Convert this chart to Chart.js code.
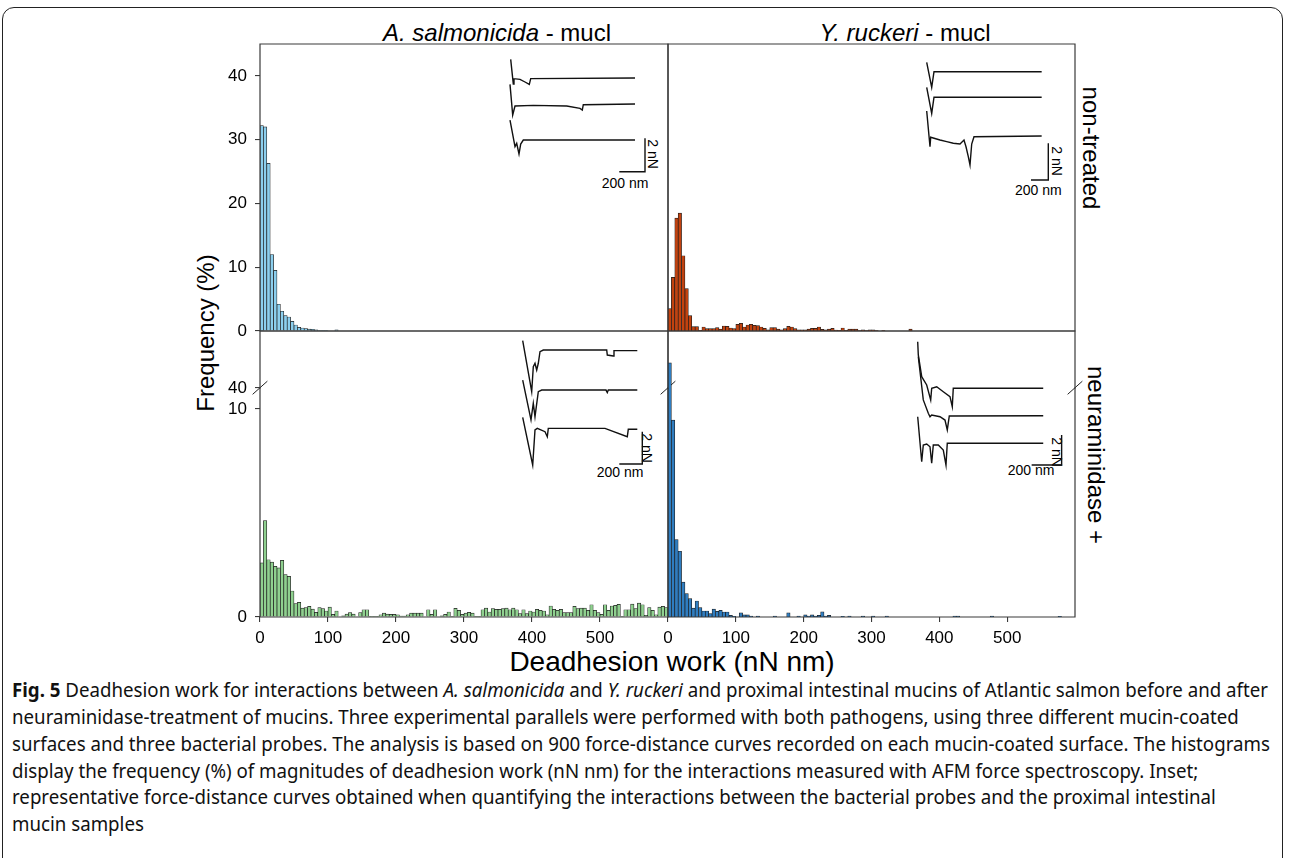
<!DOCTYPE html>
<html><head><meta charset="utf-8">
<script src="https://cdn.jsdelivr.net/npm/chart.js@4.4.1/dist/chart.umd.min.js"></script>
<style>
html,body{margin:0;padding:0;background:#fff;}
body{width:1290px;height:858px;position:relative;overflow:hidden;font-family:"Liberation Sans",Arial,sans-serif;color:#000;}
canvas{position:absolute;}
.t{position:absolute;white-space:nowrap;line-height:1;transform-origin:center center;}
#frame{position:absolute;left:2px;top:7px;width:1279px;height:900px;border:1.5px solid #222;border-radius:12px;}
.cl{position:absolute;left:12px;white-space:nowrap;line-height:1;font-family:"Noto Sans","Open Sans",sans-serif;font-size:19px;transform-origin:left center;color:#111;}
</style></head><body>
<div id="frame"></div>

<div class="t" style="font-size:24px;left:497px;top:33.3px;transform:translate(-50%,-50%)"><i>A. salmonicida</i> - mucl</div>
<div class="t" style="font-size:24px;left:905px;top:33.3px;transform:translate(-50%,-50%)"><i>Y. ruckeri</i> - mucl</div>
<div class="t" style="font-size:24px;left:1091px;top:148px;transform:translate(-50%,-50%) rotate(90deg)">non-treated</div>
<div class="t" style="font-size:24px;left:1096px;top:455px;transform:translate(-50%,-50%) rotate(90deg)">neuraminidase +</div>
<div class="t" style="font-size:24px;left:206px;top:333px;transform:translate(-50%,-50%) rotate(-90deg)">Frequency (%)</div>
<div class="t" style="font-size:28px;left:672px;top:662px;transform:translate(-50%,-50%)">Deadhesion work (nN nm)</div>

<div class="t" style="font-size:14px;left:625px;top:183.3px;transform:translate(-50%,-50%)">200 nm</div>
<div class="t" style="font-size:14px;left:653.3px;top:154px;transform:translate(-50%,-50%) rotate(90deg)">2 nN</div>
<div class="t" style="font-size:14px;left:1038.3px;top:190px;transform:translate(-50%,-50%)">200 nm</div>
<div class="t" style="font-size:14px;left:1056.7px;top:160.8px;transform:translate(-50%,-50%) rotate(90deg)">2 nN</div>
<div class="t" style="font-size:14px;left:620px;top:471.7px;transform:translate(-50%,-50%)">200 nm</div>
<div class="t" style="font-size:14px;left:646.7px;top:448px;transform:translate(-50%,-50%) rotate(90deg)">2 nN</div>
<div class="t" style="font-size:14px;left:1031px;top:470px;transform:translate(-50%,-50%)">200 nm</div>
<div class="t" style="font-size:14px;left:1056.7px;top:451.7px;transform:translate(-50%,-50%) rotate(90deg)">2 nN</div>

<div class="cl" id="cl1" style="top:680.5px"><b>Fig. 5</b> Deadhesion work for interactions between <i>A. salmonicida</i> and <i>Y. ruckeri</i> and proximal intestinal mucins of Atlantic salmon before and after</div>
<div class="cl" style="top:707.5px">neuraminidase-treatment of mucins. Three experimental parallels were performed with both pathogens, using three different mucin-coated</div>
<div class="cl" style="top:734.5px">surfaces and three bacterial probes. The analysis is based on 900 force-distance curves recorded on each mucin-coated surface. The histograms</div>
<div class="cl" style="top:761.5px">display the frequency (%) of magnitudes of deadhesion work (nN nm) for the interactions measured with AFM force spectroscopy. Inset;</div>
<div class="cl" style="top:787.5px">representative force-distance curves obtained when quantifying the interactions between the bacterial probes and the proximal intestinal</div>
<div class="cl" style="top:814.5px">mucin samples</div>

<script>
// ---------------- DATA ----------------
const binCenters = [
2.5,7.5,12.5,17.5,22.5,27.5,32.5,37.5,42.5,47.5,
52.5,57.5,62.5,67.5,72.5,77.5,82.5,87.5,92.5,97.5,
102.5,107.5,112.5,117.5,122.5,127.5,132.5,137.5,142.5,147.5,
152.5,157.5,162.5,167.5,172.5,177.5,182.5,187.5,192.5,197.5,
202.5,207.5,212.5,217.5,222.5,227.5,232.5,237.5,242.5,247.5,
252.5,257.5,262.5,267.5,272.5,277.5,282.5,287.5,292.5,297.5,
302.5,307.5,312.5,317.5,322.5,327.5,332.5,337.5,342.5,347.5,
352.5,357.5,362.5,367.5,372.5,377.5,382.5,387.5,392.5,397.5,
402.5,407.5,412.5,417.5,422.5,427.5,432.5,437.5,442.5,447.5,
452.5,457.5,462.5,467.5,472.5,477.5,482.5,487.5,492.5,497.5,
502.5,507.5,512.5,517.5,522.5,527.5,532.5,537.5,542.5,547.5,
552.5,557.5,562.5,567.5,572.5,577.5,582.5,587.5,592.5,597.5];

// A. salmonicida, non-treated
const freqASalNon = [
32.2,32.0,26.3,12.0,9.5,4.2,3.1,2.4,2.2,1.5,
0.94,0.58,0.47,0.37,0.3,0.26,0.2,0.1,0.05,0.05,
0,0,0.2,0,0,0,0,0,0,0,
0,0,0,0,0,0,0,0,0,0,
0,0,0,0,0,0,0,0,0,0,
0,0,0,0,0,0,0,0,0,0,
0,0,0,0,0,0,0,0,0,0,
0,0,0,0,0,0,0,0,0,0,
0,0,0,0,0,0,0,0,0,0,
0,0,0,0,0,0,0,0,0,0,
0,0,0,0,0,0,0,0,0,0,
0,0,0,0,0,0,0,0,0,0];

// Y. ruckeri, non-treated
const freqYRucNon = [
3.5,8.4,17.7,18.5,11.8,6.66,2.4,0.68,0.68,0.1,
0.63,0.37,0.37,0.37,0.52,0.31,0.79,0.73,0.47,0.37,
1.05,1.2,0.63,0.94,1.05,0.89,0.84,0.63,0.42,0.2,
0.52,0.52,0.31,0.2,0.37,0.73,0.63,0.37,0.2,0.2,
0.2,0.31,0.42,0.42,0.63,0.26,0.2,0.31,0.42,0.15,
0.1,0.47,0.1,0.3,0.3,0.3,0.05,0.2,0.05,0.2,
0.2,0.05,0,0.05,0,0,0,0,0,0,
0,0.3,0,0,0,0,0,0,0,0,
0,0,0,0,0,0,0,0,0,0,
0,0,0,0,0,0,0,0,0,0,
0,0,0,0,0,0,0,0,0,0,
0,0,0,0,0,0,0,0,0,0];

// A. salmonicida, neuraminidase +
const freqASalNeu = [
2.6,4.63,2.75,2.64,2.43,2.36,2.72,2.04,1.95,1.25,
0.64,0.70,0.43,0.45,0.51,0.38,0.22,0.45,0.40,0.29,
0.48,0.13,0.29,0,0.06,0.14,0.21,0.14,0,0.21,
0.35,0.35,0.03,0.03,0.03,0.11,0.19,0.14,0.13,0.13,
0.11,0.05,0.05,0.11,0.19,0.19,0.19,0.19,0,0.35,
0.13,0.35,0,0.06,0.13,0.24,0.03,0.42,0.32,0.13,
0.19,0.22,0.19,0.03,0.03,0.35,0.43,0.24,0.4,0.37,
0.37,0.4,0.43,0.35,0.43,0.35,0.16,0.35,0.16,0.29,
0.24,0.37,0.32,0.29,0.11,0.53,0.37,0.32,0.37,0.21,
0.21,0.21,0.51,0.4,0.43,0.43,0.32,0.59,0.32,0.21,
0.13,0.59,0.32,0.53,0.56,0.61,0.03,0.35,0.35,0.62,
0.4,0.67,0.59,0.08,0.45,0.32,0.11,0.48,0.51,0.45];

// Y. ruckeri, neuraminidase +
const freqYRucNeu = [
44.4,9.46,3.72,3.16,1.68,1.12,0.88,0.43,0.77,0.45,
0.29,0.29,0.16,0.38,0.27,0.32,0.24,0.24,0.08,0.03,
0,0.2,0.1,0.1,0.05,0,0.05,0,0,0,
0,0.05,0,0,0,0.2,0,0,0.05,0,
0.1,0.05,0.1,0.05,0.08,0.25,0.05,0.08,0,0,
0,0.03,0,0.05,0,0,0,0.05,0,0,
0.05,0,0,0,0.05,0,0,0,0,0,
0,0,0,0,0,0,0,0,0,0,
0,0,0,0,0.05,0.05,0,0,0,0,
0,0,0,0,0,0.05,0,0,0,0,
0,0,0,0,0,0,0,0,0,0,
0,0,0,0,0,0.03,0,0,0,0];

const xTickValues = [0,100,200,300,400,500];
const yTicksTop = [0,10,20,30,40];
const yTicksLower = [0,10];
const yTicksUpper = [40];

// inset force-distance curves: [distance nm, force nN]
const insetASalNon = [
 [[5.4,0.04],[25.7,-1.44],[31.1,-1.12],[77.8,-1.16],[116.7,-1.32],[150.2,-1.46],[161.0,-1.12],[972.5,-1.08]],
 [[0,-1.46],[21,-3.30],[38.9,-2.76],[181.3,-2.72],[441.1,-2.76],[544.6,-2.90],[562.5,-3.00],[570.3,-2.68],[972.5,-2.64]],
 [[0,-3.6],[38.9,-5.2],[52.1,-5.0],[70,-5.64],[83.2,-5.04],[103.5,-4.8],[972.5,-4.8]]];
const barASalNon = [[1050.3,-4.70],[1050.3,-6.70],[850.3,-6.70]];

const insetYRucNon = [
 [[0,-0.02],[57.8,-1.38],[84.4,-0.53],[1329,-0.53]],
 [[0,-1.38],[57.8,-2.80],[84.4,-1.92],[1329,-1.92]],
 [[0,-2.67],[38.1,-4.62],[46.2,-4.10],[153.7,-4.25],[231.2,-4.34],[307.5,-4.43],[384.9,-4.47],[431.1,-4.25],[454.3,-4.62],[480.9,-5.16],[500.5,-5.61],[520.2,-4.47],[546.8,-4.07],[1329,-4.03]]];
const barYRucNon = [[1405.7,-4.43],[1405.7,-6.43],[1205.7,-6.43]];

const insetASalNeu = [
 [[0,-0.04],[78.3,-3.20],[92.2,-1.65],[107,-1.44],[121.8,-1.86],[135.7,-1.44],[150.5,-0.72],[179.2,-0.62],[730.8,-0.62],[736,-0.93],[788.2,-0.99],[794.3,-0.66],[997,-0.66]],
 [[0,-2.48],[72.2,-4.95],[92.2,-3.92],[107,-4.75],[135.7,-3.20],[165.3,-3.10],[724.7,-3.10],[736,-3.26],[744.7,-3.10],[997,-3.10]],
 [[0,-4.79],[87,-7.74],[107,-5.57],[127,-5.47],[194,-5.68],[214,-5.99],[222.7,-5.47],[716,-5.47],[910,-5.99],[918.7,-5.53],[997,-5.53]]];
const barASalNeu = [[1040.5,-5.68],[1040.5,-7.68],[840.5,-7.68]];

const insetYRucNeu = [
 [[0,-0.05],[4,-0.93],[26.7,-2.38],[60,-2.93],[86.7,-3.93],[93.3,-3.15],[126.7,-3.05],[170.7,-3.38],[215.3,-3.71],[230.7,-4.38],[237.3,-3.15],[837.3,-3.15]],
 [[4,-1.05],[37.3,-3.93],[70.7,-4.82],[82,-5.05],[93.3,-4.93],[148.7,-5.05],[182,-5.27],[197.3,-5.93],[210.7,-5.0],[837.3,-4.98]],
 [[0,-5.05],[26.7,-8.05],[37.3,-6.93],[60,-6.87],[82,-7.05],[93.3,-8.15],[104,-6.93],[137.3,-6.93],[170.7,-7.27],[188.7,-8.27],[197.3,-6.82],[837.3,-6.82]]];
const barYRucNeu = [[960,-6.27],[960,-8.27],[760,-8.27]];

// ---------------- LAYOUT ----------------
Chart.defaults.font.family = '"Liberation Sans", Arial, sans-serif';
Chart.defaults.color = '#000';
const XL = 260, XM = 668, XR = 1075, YT = 44, YMID = 330.7, YBRK = 388, YB = 616.7;
const AXIS = '#3a3a3a';

const framePlugin = {
  id: 'frame',
  afterDraw(chart, args, opts) {
    const {ctx, chartArea: a} = chart;
    ctx.save();
    ctx.strokeStyle = AXIS; ctx.lineWidth = 1.2; ctx.lineCap = 'square';
    ctx.beginPath();
    const s = opts.sides || '';
    if (s.includes('t')) { ctx.moveTo(a.left, a.top); ctx.lineTo(a.right, a.top); }
    if (s.includes('b')) { ctx.moveTo(a.left, a.bottom); ctx.lineTo(a.right, a.bottom); }
    if (s.includes('l')) { ctx.moveTo(a.left, a.top); ctx.lineTo(a.left, a.bottom); }
    if (s.includes('r')) { ctx.moveTo(a.right, a.top); ctx.lineTo(a.right, a.bottom); }
    ctx.stroke();
    const br = opts.breaks || '';
    ctx.lineWidth = 1; ctx.strokeStyle = '#222';
    ctx.beginPath();
    if (br.includes('l')) { ctx.moveTo(a.left - 7, a.top + 6); ctx.lineTo(a.left + 7, a.top - 6.5); }
    if (br.includes('r')) { ctx.moveTo(a.right - 7, a.top + 6); ctx.lineTo(a.right + 7, a.top - 6.5); }
    ctx.stroke();
    ctx.restore();
  }
};

function histPanel(area, values, color, o) {
  const PAD = 24, YW = o.yTicks ? 60 : 0, XH = o.xTicks ? 40 : 0;
  const c = document.createElement('canvas');
  c.width = Math.round(PAD + YW + (area.r - area.l) + PAD);
  c.height = Math.round(PAD + (area.b - area.t) + XH + PAD);
  c.style.left = (area.l - PAD - YW) + 'px';
  c.style.top = (area.t - PAD) + 'px';
  document.body.appendChild(c);
  const tickGrid = {display: true, drawOnChartArea: false, drawTicks: true, tickLength: 5, color: AXIS, lineWidth: 1.1};
  new Chart(c, {
    type: 'bar',
    data: {datasets: [{
      data: binCenters.map((x, i) => ({x: x, y: values[i]})),
      backgroundColor: color, borderColor: '#1c1c1c', borderWidth: 0.7,
      barPercentage: 1, categoryPercentage: 1, clip: 0, borderSkipped: 'start'
    }]},
    options: {
      responsive: false, animation: false, events: [],
      layout: {padding: {left: PAD, right: PAD, top: PAD, bottom: PAD}},
      plugins: {legend: {display: false}, tooltip: {enabled: false}, frame: {sides: o.sides, breaks: o.breaks}},
      scales: {
        x: {type: 'linear', min: 0, max: 600, offset: false, display: !!o.xTicks,
            grid: Object.assign({offset: false}, tickGrid), border: {display: false},
            ticks: {font: {size: 17}, color: '#000', padding: 6, maxRotation: 0, autoSkip: false},
            afterBuildTicks: s => { s.ticks = (o.xTicks || []).map(v => ({value: v})); },
            afterFit: s => { s.height = XH; s.paddingLeft = 0; s.paddingRight = 0; }},
        y: {type: 'linear', min: o.yMin, max: o.yMax, display: !!o.yTicks,
            grid: tickGrid, border: {display: false},
            ticks: {font: {size: 17}, color: '#000', padding: 8, autoSkip: false},
            afterBuildTicks: s => { s.ticks = (o.yTicks || []).map(v => ({value: v})); },
            afterFit: s => { s.width = YW; s.paddingTop = 0; s.paddingBottom = 0; }}
      }
    },
    plugins: [framePlugin]
  });
}

const cBlueL = '#8ccfee', cRed = '#c2420f', cGreen = '#8fd08f', cBlue = '#2f7dc0';

histPanel({l: XL, r: XM, t: YT, b: YMID}, freqASalNon, cBlueL, {yMin: 0, yMax: 45, yTicks: yTicksTop, sides: 'tblr'});
histPanel({l: XM, r: XR, t: YT, b: YMID}, freqYRucNon, cRed, {yMin: 0, yMax: 45, sides: 'tblr'});
histPanel({l: XL, r: XM, t: YBRK, b: YB}, freqASalNeu, cGreen, {yMin: 0, yMax: 11, yTicks: yTicksLower, xTicks: xTickValues, sides: 'blr', breaks: 'l'});
histPanel({l: XM, r: XR, t: YBRK, b: YB}, freqYRucNeu, cBlue, {yMin: 0, yMax: 11, xTicks: xTickValues, sides: 'blr', breaks: 'lr'});
histPanel({l: XL, r: XM, t: YMID, b: YBRK}, freqASalNeu, cGreen, {yMin: 40, yMax: 50, yTicks: yTicksUpper, sides: 'tlr'});
histPanel({l: XM, r: XR, t: YMID, b: YBRK}, freqYRucNeu, cBlue, {yMin: 40, yMax: 50, sides: 'tlr'});

function insetPanel(curves, scaleBar, g) {
  const c = document.createElement('canvas');
  c.width = g.r - g.l; c.height = g.b - g.t;
  c.style.left = g.l + 'px'; c.style.top = g.t + 'px';
  document.body.appendChild(c);
  const ds = curves.concat([scaleBar]).map(pts => ({
    data: pts.map(p => ({x: p[0], y: p[1]})), showLine: true, pointRadius: 0,
    borderColor: '#111', borderWidth: 1.4, fill: false, tension: 0
  }));
  new Chart(c, {
    type: 'scatter', data: {datasets: ds},
    options: {
      responsive: false, animation: false, events: [], layout: {padding: 0},
      plugins: {legend: {display: false}, tooltip: {enabled: false}},
      scales: {
        x: {type: 'linear', display: false, min: (g.l - g.x0) * g.nmPerPx, max: (g.r - g.x0) * g.nmPerPx},
        y: {type: 'linear', display: false, max: (g.y0 - g.t) / g.pxPerNN, min: (g.y0 - g.b) / g.pxPerNN}
      }
    }
  });
}
insetPanel(insetASalNon, barASalNon, {l: 500, t: 50, r: 665, b: 180, x0: 510, y0: 60, nmPerPx: 7.78, pxPerNN: 16.67});
insetPanel(insetYRucNon, barYRucNon, {l: 915, t: 50, r: 1060, b: 190, x0: 926.7, y0: 62, nmPerPx: 11.56, pxPerNN: 18.35});
insetPanel(insetASalNeu, barASalNeu, {l: 510, t: 332, r: 650, b: 475, x0: 522.7, y0: 340, nmPerPx: 8.7, pxPerNN: 16.15});
insetPanel(insetYRucNeu, barYRucNeu, {l: 905, t: 332, r: 1070, b: 475, x0: 917.7, y0: 341, nmPerPx: 6.67, pxPerNN: 15});

// fit caption width to reference line length
(function(){
  const l1 = document.getElementById('cl1');
  const w = l1.getBoundingClientRect().width;
  const k = 1256 / w;
  document.querySelectorAll('.cl').forEach(el => { el.style.transform = 'scaleX(' + k + ')'; });
})();
</script>
</body></html>
